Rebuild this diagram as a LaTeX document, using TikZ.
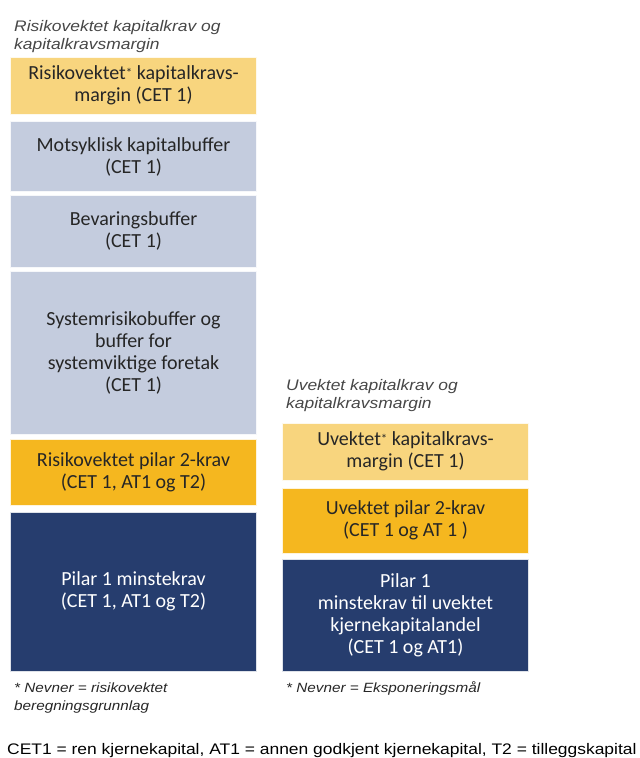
\documentclass[tikz,border=0pt]{standalone}
\usepackage{fontspec}
\setmainfont{Carlito}
\newfontfamily\arialfont[FakeStretch=1.14]{Liberation Sans}
\definecolor{lightyel}{HTML}{F8D57E}
\definecolor{greyblue}{HTML}{C4CCDE}
\definecolor{gold}{HTML}{F5B71F}
\definecolor{navy}{HTML}{263D6E}
\definecolor{txt}{HTML}{262626}
\newcommand{\sstar}{\raisebox{0.25ex}{\fontsize{13}{13}\selectfont*}}
\begin{document}
\begin{tikzpicture}[x=1pt,y=-1pt,
  box/.style={draw=white!85!#1, line width=0.6pt, fill=#1, inner sep=0pt, align=center,
    text=txt, font=\fontsize{20}{22}\selectfont},
  lbox/.style={box=#1, minimum width=246pt},
  rbox/.style={box=#1, minimum width=246pt},
  head/.style={anchor=base west, align=left, inner sep=0pt, text=txt!85!white,
    font=\arialfont\itshape\fontsize{15.3}{18.5}\selectfont},
  foot/.style={anchor=base west, align=left, inner sep=0pt, text=txt,
    font=\arialfont\itshape\fontsize{13.4}{18}\selectfont},
  note/.style={anchor=base west, inner sep=0pt, text=black,
    font=\arialfont\fontsize{15.3}{18}\selectfont}]
\useasboundingbox (0,0) rectangle (640,758);
% left column
\node[head] (lh) at (14,49.5) {Risikovektet kapitalkrav og\\kapitalkravsmargin};
\node[lbox=lightyel, minimum height=57pt] (l1) at (133.5,85.5) {Risikovektet\sstar{} kapitalkravs-\\margin (CET 1)};
\node[lbox=greyblue, minimum height=70pt] (l2) at (133.5,156.5) {Motsyklisk kapitalbuffer\\(CET 1)};
\node[lbox=greyblue, minimum height=72pt] (l3) at (133.5,231) {Bevaringsbuffer\\(CET 1)};
\node[lbox=greyblue, minimum height=163pt] (l4) at (133.5,352.5) {Systemrisikobuffer og\\buffer for\\systemviktige foretak\\(CET 1)};
\node[lbox=gold, minimum height=66pt] (l5) at (133.5,472) {Risikovektet pilar 2-krav\\(CET 1, AT1 og T2)};
\node[lbox=navy, minimum height=159pt, text=white] (l6) at (133.5,591.5) {Pilar 1 minstekrav\\(CET 1, AT1 og T2)};
\node[foot] (lf) at (14,710) {* Nevner = risikovektet\\beregningsgrunnlag};
% right column
\node[head] (rh) at (286,408.5) {Uvektet kapitalkrav og\\kapitalkravsmargin};
\node[rbox=lightyel, minimum height=57pt] (r1) at (405.5,451.5) {Uvektet\sstar{} kapitalkravs-\\margin (CET 1)};
\node[rbox=gold, minimum height=65pt] (r2) at (405.5,520.5) {Uvektet pilar 2-krav\\(CET 1 og AT 1 )};
\node[rbox=navy, minimum height=112pt, text=white] (r3) at (405.5,615) {Pilar 1\\minstekrav til uvektet\\kjernekapitalandel\\(CET 1 og AT1)};
\node[foot] (rf) at (286,692) {* Nevner = Eksponeringsmål};
% bottom note
\node[note] (nb) at (7,754) {CET1 = ren kjernekapital, AT1 = annen godkjent kjernekapital, T2 = tilleggskapital};
\end{tikzpicture}
\end{document}
